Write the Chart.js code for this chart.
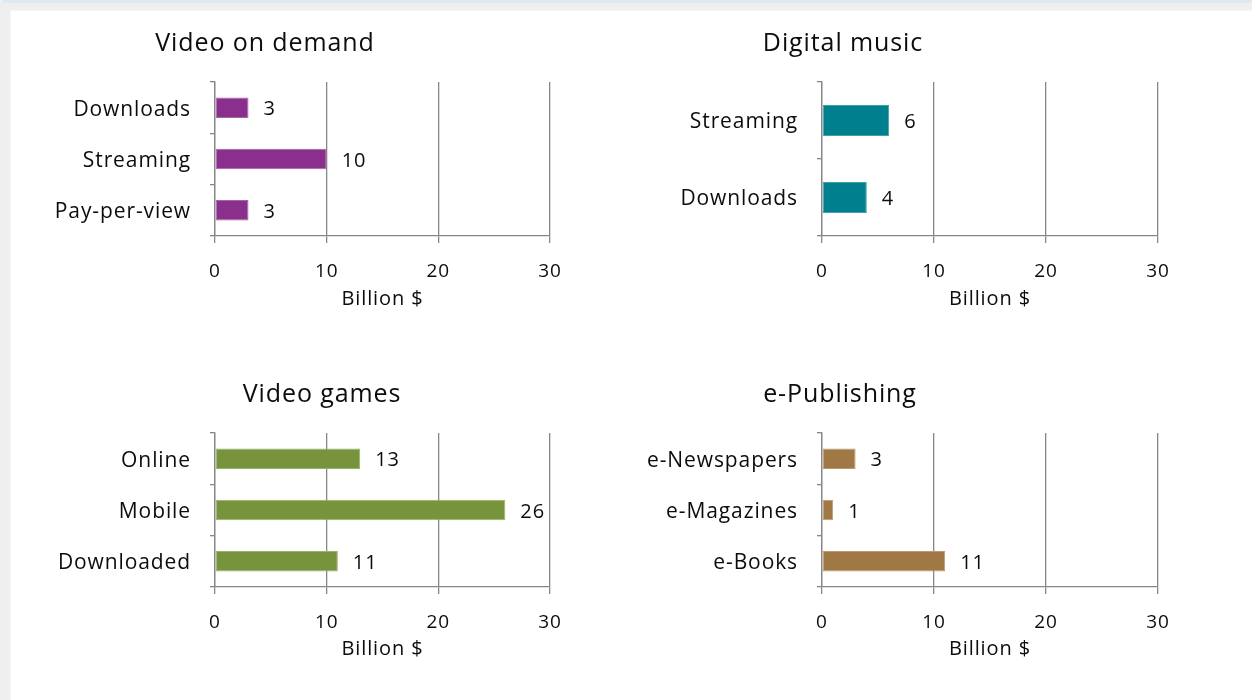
<!DOCTYPE html>
<html>
<head>
<meta charset="utf-8">
<script src="https://cdn.jsdelivr.net/npm/chart.js@4/dist/chart.umd.min.js"></script>
<style>
  html, body { margin: 0; padding: 0; }
  body { width: 1252px; height: 700px; background: #efefef; position: relative; overflow: hidden; }
  #topbar { position: absolute; left: 3px; top: 0; width: 1249px; height: 3px; background: #dfe8f5; }
  #sheet { position: absolute; left: 10px; top: 10px; width: 1242px; height: 690px; background: #ffffff; border-left: 1px solid #f7f7f7; border-top: 1px solid #f7f7f7; }
  .panel { position: absolute; }
</style>
</head>
<body>
<div id="topbar"></div>
<div id="sheet"></div>
<canvas id="c1" class="panel" style="left:10px;top:10px" width="600" height="330"></canvas>
<canvas id="c2" class="panel" style="left:620px;top:10px" width="620" height="330"></canvas>
<canvas id="c3" class="panel" style="left:10px;top:360px" width="600" height="330"></canvas>
<canvas id="c4" class="panel" style="left:620px;top:360px" width="620" height="330"></canvas>
<script>
// Revenue by segment, billion dollars
const vodCategories = ['Downloads', 'Streaming', 'Pay-per-view'];
const vodValues = [3, 10, 3];

const musicCategories = ['Streaming', 'Downloads'];
const musicValues = [6, 4];

const gamesCategories = ['Online', 'Mobile', 'Downloaded'];
const gamesValues = [13, 26, 11];

const publishingCategories = ['e-Newspapers', 'e-Magazines', 'e-Books'];
const publishingValues = [3, 1, 11];

const xTicks = [0, 10, 20, 30];
const axisTitle = 'Billion $';

const FONT = "'Open Sans', Lato, sans-serif";
const TEXT = '#0c0c0c';
const LINE = '#878787';
const SPACING = '0.9px';

// Slightly open letter spacing for every piece of text on the canvas
const spacedText = {
  id: 'spacedText',
  beforeInit(chart) { chart.ctx.letterSpacing = SPACING; },
  beforeDraw(chart) { chart.ctx.letterSpacing = SPACING; }
};

// Panel heading drawn at a fixed horizontal position
const panelTitle = {
  id: 'panelTitle',
  afterDraw(chart, args, opts) {
    const ctx = chart.ctx;
    ctx.save();
    ctx.letterSpacing = SPACING;
    ctx.font = opts.size + 'px ' + FONT;
    ctx.fillStyle = TEXT;
    ctx.textAlign = 'center';
    ctx.textBaseline = 'middle';
    ctx.fillText(opts.text, opts.x, opts.y);
    ctx.restore();
  }
};

// Value printed just past the end of each bar
const valueLabels = {
  id: 'valueLabels',
  afterDatasetsDraw(chart, args, opts) {
    const ctx = chart.ctx;
    ctx.save();
    ctx.letterSpacing = SPACING;
    ctx.font = opts.size + 'px ' + FONT;
    ctx.fillStyle = TEXT;
    ctx.textAlign = 'left';
    ctx.textBaseline = 'middle';
    chart.data.datasets.forEach((ds, i) => {
      chart.getDatasetMeta(i).data.forEach((bar, j) => {
        ctx.fillText(String(ds.data[j]), bar.x + opts.gap, bar.y + 2);
      });
    });
    ctx.restore();
  }
};

function makePanel(id, title, titleX, titleY, categories, values, fill, edge, area) {
  const canvas = document.getElementById(id);
  const W = canvas.width, H = canvas.height;
  return new Chart(canvas, {
    type: 'bar',
    data: {
      labels: categories,
      datasets: [{
        data: values,
        backgroundColor: fill,
        borderColor: edge,
        borderWidth: 1,
        borderSkipped: false,
        categoryPercentage: 1,
        barPercentage: 0.4
      }]
    },
    options: {
      indexAxis: 'y',
      responsive: false,
      animation: false,
      events: [],
      layout: { padding: { left: 0, top: area.top, right: W - area.right, bottom: 0 } },
      plugins: {
        legend: { display: false },
        tooltip: { enabled: false },
        title: { display: false },
        panelTitle: { text: title, x: titleX, y: titleY, size: 25 },
        valueLabels: { gap: 15, size: 20 }
      },
      scales: {
        x: {
          type: 'linear',
          min: 0,
          max: 30,
          afterBuildTicks(scale) { scale.ticks = xTicks.map(v => ({ value: v })); },
          afterFit(scale) { scale.height = H - area.bottom; },
          grid: { color: LINE, lineWidth: 1.3, drawTicks: true, tickLength: 7, tickColor: LINE },
          border: { display: true, color: LINE, width: 1.3 },
          ticks: { color: TEXT, font: { family: FONT, size: 19, lineHeight: 1.2 }, padding: 17, maxRotation: 0 },
          title: { display: true, text: axisTitle, color: TEXT, font: { family: FONT, size: 20, lineHeight: 1.2 }, padding: { top: 0, bottom: 29 } }
        },
        y: {
          type: 'category',
          offset: true,
          afterFit(scale) { scale.width = area.left; },
          grid: { offset: true, drawOnChartArea: false, drawTicks: true, tickLength: 5, tickColor: LINE, lineWidth: 1.3 },
          border: { display: true, color: LINE, width: 1.3 },
          ticks: { color: TEXT, font: { family: FONT, size: 21 }, padding: 19, labelOffset: 2 }
        }
      }
    },
    plugins: [spacedText, panelTitle, valueLabels]
  });
}

makePanel('c1', 'Video on demand', 255, 34, vodCategories, vodValues, '#8b2f8c', '#a763a8',
  { left: 205, right: 540, top: 72, bottom: 226 });
makePanel('c2', 'Digital music', 223, 34, musicCategories, musicValues, '#007f8f', '#3f9eaa',
  { left: 202, right: 538, top: 72, bottom: 226 });
makePanel('c3', 'Video games', 312, 35, gamesCategories, gamesValues, '#77933c', '#9ab36a',
  { left: 205, right: 540, top: 73, bottom: 227 });
makePanel('c4', 'e-Publishing', 220, 35, publishingCategories, publishingValues, '#a07845', '#bd9a6d',
  { left: 202, right: 538, top: 73, bottom: 227 });
</script>
</body>
</html>
